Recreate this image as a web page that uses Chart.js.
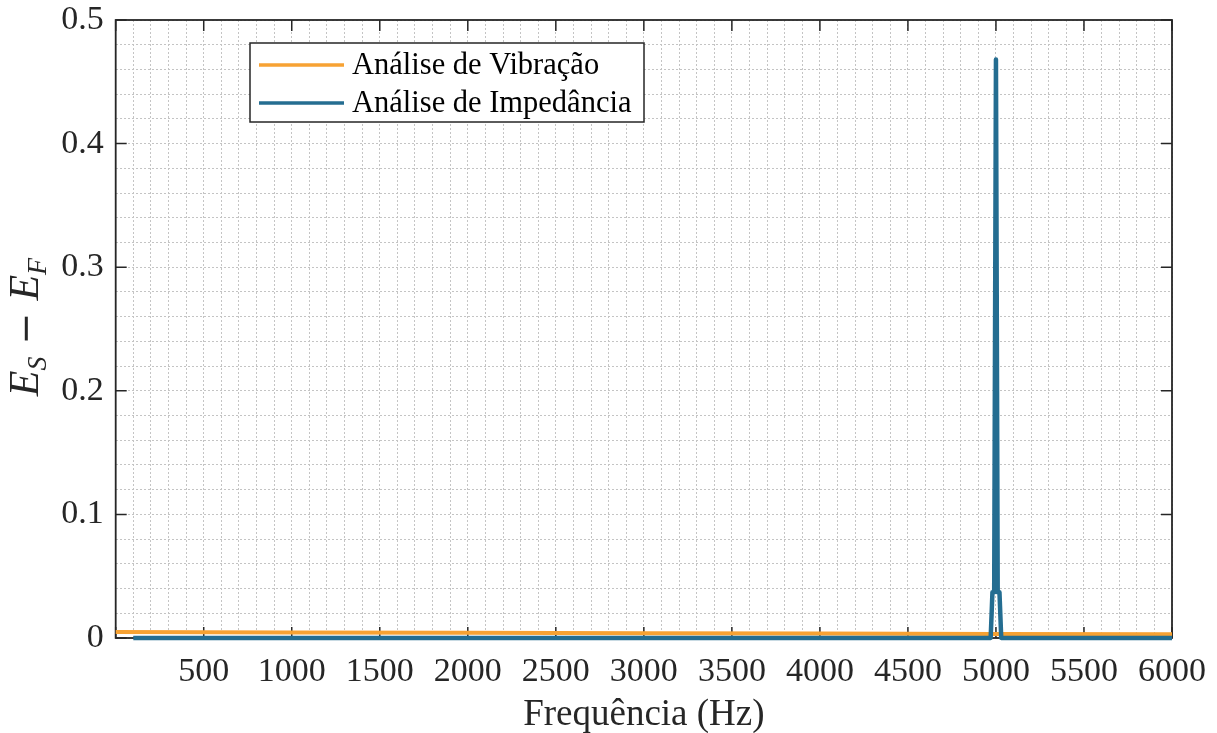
<!DOCTYPE html>
<html>
<head>
<meta charset="utf-8">
<script src="https://cdn.jsdelivr.net/npm/chart.js@4/dist/chart.umd.min.js"></script>
<style>
  html, body { margin: 0; padding: 0; background: #ffffff; }
  canvas { display: block; }
</style>
</head>
<body>
<canvas id="c" width="1217" height="733"></canvas>
<script>
// Frequency sweep results (Hz) and energy difference E_S - E_F
const vibFreq  = [0, 1000, 2000, 3000, 4000, 5000, 6000];
const vibValue = [0.0048, 0.0045, 0.0042, 0.0039, 0.0036, 0.0033, 0.0030];

const impFreq  = [100, 4970, 4980, 4990, 5000, 5010, 5020, 5030, 6000];
const impValue = [0.0000, 0.0000, 0.037, 0.037, 0.468, 0.037, 0.037, 0.0000, 0.0000];

const seriesLabels = ['Análise de Vibração', 'Análise de Impedância'];
const seriesColors = ['#f7a233', '#246d91'];

const xTickLabels = ['500', '1000', '1500', '2000', '2500', '3000', '3500', '4000', '4500', '5000', '5500', '6000'];
const yTickLabels = ['0', '0.1', '0.2', '0.3', '0.4', '0.5'];

const xTitle = 'Frequência (Hz)';

const SERIF = '"Liberation Serif", "Times New Roman", serif';
const AXIS_COLOR = '#262626';

function toPoints(xs, ys) {
  return xs.map((x, i) => ({ x: x, y: ys[i] }));
}

// White page background
const background = {
  id: 'background',
  beforeDraw(chart) {
    const ctx = chart.ctx;
    ctx.save();
    ctx.fillStyle = '#ffffff';
    ctx.fillRect(0, 0, chart.width, chart.height);
    ctx.restore();
  }
};

// Axes box and inward ticks, drawn beneath the curves
const frame = {
  id: 'frame',
  beforeDatasetsDraw(chart) {
    const ctx = chart.ctx;
    const a = chart.chartArea;
    const xs = chart.scales.x, ys = chart.scales.y;
    ctx.save();
    ctx.strokeStyle = AXIS_COLOR;
    ctx.lineWidth = 1.5;
    const tl = 11;
    ctx.beginPath();
    for (let v = 0; v <= 6000; v += 500) {
      const px = xs.getPixelForValue(v);
      ctx.moveTo(px, a.bottom); ctx.lineTo(px, a.bottom - tl);
      ctx.moveTo(px, a.top);    ctx.lineTo(px, a.top + tl);
    }
    for (let i = 0; i <= 5; i++) {
      const py = ys.getPixelForValue(i / 10);
      ctx.moveTo(a.left, py);  ctx.lineTo(a.left + tl, py);
      ctx.moveTo(a.right, py); ctx.lineTo(a.right - tl, py);
    }
    ctx.stroke();
    ctx.lineWidth = 1.8;
    ctx.strokeRect(a.left, a.top, a.right - a.left, a.bottom - a.top);
    ctx.restore();
  }
};

// Axis titles and legend
const annotations = {
  id: 'annotations',
  afterDraw(chart) {
    const ctx = chart.ctx;
    const a = chart.chartArea;
    ctx.save();

    // x-axis title
    ctx.fillStyle = AXIS_COLOR;
    ctx.font = '37px ' + SERIF;
    ctx.textAlign = 'center';
    ctx.textBaseline = 'alphabetic';
    ctx.fillText(xTitle, (a.left + a.right) / 2, 725);

    // y-axis title: E_S − E_F (rotated)
    ctx.save();
    ctx.translate(38, 327);
    ctx.rotate(-Math.PI / 2);
    ctx.textAlign = 'left';
    const big = 'italic 42px ' + SERIF;
    const small = 'italic 28px ' + SERIF;
    const op = '38px "DejaVu Serif", serif';
    const parts = [
      { t: 'E', f: big, dy: 0 },
      { t: 'S', f: small, dy: 8 },
      { t: ' \u2212 ', f: op, dy: 0 },
      { t: 'E', f: big, dy: 0 },
      { t: 'F', f: small, dy: 8 }
    ];
    let total = 0;
    parts.forEach(p => { ctx.font = p.f; p.w = ctx.measureText(p.t).width; total += p.w; });
    let cx = -total / 2;
    parts.forEach(p => { ctx.font = p.f; ctx.fillText(p.t, cx, p.dy); cx += p.w; });
    ctx.restore();

    // legend
    const lx = 250, ly = 43, lw = 394, lh = 79;
    ctx.fillStyle = '#ffffff';
    ctx.fillRect(lx, ly, lw, lh);
    ctx.strokeStyle = AXIS_COLOR;
    ctx.lineWidth = 1.5;
    ctx.strokeRect(lx, ly, lw, lh);
    const rows = [65, 103];
    const entries = chart.data.datasets.slice().sort((p, q) => seriesLabels.indexOf(p.label) - seriesLabels.indexOf(q.label));
    entries.forEach((ds, i) => {
      ctx.strokeStyle = ds.borderColor;
      ctx.lineWidth = 3.5;
      ctx.beginPath();
      ctx.moveTo(259, rows[i]); ctx.lineTo(344, rows[i]);
      ctx.stroke();
      ctx.fillStyle = '#000000';
      ctx.font = '30.5px ' + SERIF;
      ctx.textAlign = 'left';
      ctx.textBaseline = 'middle';
      ctx.fillText(ds.label, 352, rows[i] + 1);
    });

    ctx.restore();
  }
};

new Chart(document.getElementById('c'), {
  type: 'line',
  data: {
    datasets: [
      {
        label: seriesLabels[0],
        data: toPoints(vibFreq, vibValue),
        borderColor: seriesColors[0],
        backgroundColor: seriesColors[0],
        borderWidth: 4,
        pointRadius: 0,
        tension: 0,
        clip: 6,
        order: 1
      },
      {
        label: seriesLabels[1],
        data: toPoints(impFreq, impValue),
        borderColor: seriesColors[1],
        backgroundColor: seriesColors[1],
        borderWidth: 4.5,
        pointRadius: 0,
        tension: 0,
        clip: 6,
        borderJoinStyle: 'round',
        order: 0
      }
    ]
  },
  options: {
    responsive: false,
    animation: false,
    events: [],
    layout: { padding: { top: 20, right: 45, left: 0, bottom: 0 } },
    plugins: { legend: { display: false }, tooltip: { enabled: false } },
    scales: {
      x: {
        type: 'linear',
        min: 0, max: 6000,
        afterFit(scale) { scale.height = 95; scale.paddingLeft = 0; scale.paddingRight = 0; },
        border: { display: false, dash: [2, 2] },
        grid: { color: '#c4c4c4', lineWidth: 1, drawTicks: false },
        ticks: {
          stepSize: 100,
          autoSkip: false,
          maxTicksLimit: 100,
          maxRotation: 0,
          padding: 14,
          color: AXIS_COLOR,
          font: { family: SERIF, size: 34 },
          callback(v) {
            const s = String(Math.round(v));
            return xTickLabels.includes(s) && Math.round(v) % 500 === 0 ? s : '';
          }
        }
      },
      y: {
        type: 'linear',
        min: 0, max: 0.5,
        afterFit(scale) { scale.width = 115.7; scale.paddingTop = 0; scale.paddingBottom = 0; },
        border: { display: false, dash: [2, 2] },
        grid: { color: '#c4c4c4', lineWidth: 1, drawTicks: false },
        ticks: {
          stepSize: 0.02,
          autoSkip: false,
          maxTicksLimit: 100,
          padding: 12,
          color: AXIS_COLOR,
          font: { family: SERIF, size: 34 },
          callback(v) {
            const k = Math.round(v * 100);
            if (k % 10 !== 0) return '';
            return yTickLabels[k / 10];
          }
        }
      }
    }
  },
  plugins: [background, frame, annotations]
});
</script>
</body>
</html>
